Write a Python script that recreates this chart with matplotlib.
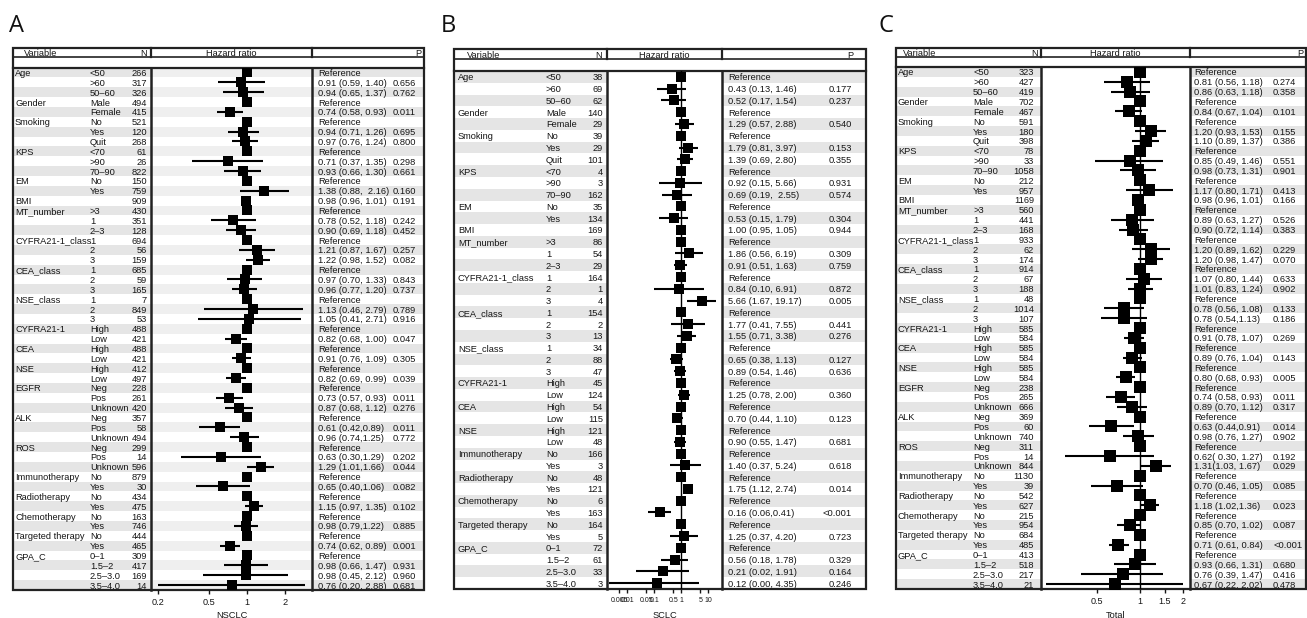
import re
import matplotlib.pyplot as plt
from matplotlib.patches import Rectangle
from matplotlib.ticker import FixedLocator, FixedFormatter, NullLocator

plt.rcParams['font.family'] = ['Liberation Sans', 'DejaVu Sans']

W, H = 1307, 618
TXT = "#161616"
GREY = "#e5e5e5"

# ---- row labels: NSCLC and Total share the same rows ----
var_full = ["Age", "", "", "Gender", "", "Smoking", "", "", "KPS", "", "", "EM", "", "BMI",
            "MT_number", "", "", "CYFRA21-1_class", "", "", "CEA_class", "", "", "NSE_class", "", "",
            "CYFRA21-1", "", "CEA", "", "NSE", "", "EGFR", "", "", "ALK", "", "", "ROS", "", "",
            "Immunotherapy", "", "Radiotherapy", "", "Chemotherapy", "", "Targeted therapy", "",
            "GPA_C", "", "", ""]
lvl_full = ["<50", ">60", "50–60", "Male", "Female", "No", "Yes", "Quit", "<70", ">90", "70–90",
            "No", "Yes", "", ">3", "1", "2–3", "1", "2", "3", "1", "2", "3", "1", "2", "3",
            "High", "Low", "High", "Low", "High", "Low", "Neg", "Pos", "Unknown", "Neg", "Pos", "Unknown",
            "Neg", "Pos", "Unknown", "No", "Yes", "No", "Yes", "No", "Yes", "No", "Yes",
            "0–1", "1.5–2", "2.5–3.0", "3.5–4.0"]

var_sclc = ["Age", "", "", "Gender", "", "Smoking", "", "", "KPS", "", "", "EM", "", "BMI",
            "MT_number", "", "", "CYFRA21-1_class", "", "", "CEA_class", "", "", "NSE_class", "", "",
            "CYFRA21-1", "", "CEA", "", "NSE", "", "Immunotherapy", "", "Radiotherapy", "",
            "Chemotherapy", "", "Targeted therapy", "", "GPA_C", "", "", ""]
lvl_sclc = ["<50", ">60", "50–60", "Male", "Female", "No", "Yes", "Quit", "<70", ">90", "70–90",
            "No", "Yes", "", ">3", "1", "2–3", "1", "2", "3", "1", "2", "3", "1", "2", "3",
            "High", "Low", "High", "Low", "High", "Low", "No", "Yes", "No", "Yes", "No", "Yes",
            "No", "Yes", "0–1", "1.5–2", "2.5–3.0", "3.5–4.0"]

# ---- NSCLC ----
n_nsclc = [266, 317, 326, 494, 415, 521, 120, 268, 61, 26, 822, 150, 759, 909, 430, 351, 128,
           694, 56, 159, 685, 59, 165, 7, 849, 53, 488, 421, 488, 421, 412, 497, 228, 261, 420,
           357, 58, 494, 299, 14, 596, 879, 30, 434, 475, 163, 746, 444, 465, 309, 417, 169, 14]
est_nsclc = ["Reference", "0.91 (0.59, 1.40)", "0.94 (0.65, 1.37)", "Reference", "0.74 (0.58, 0.93)",
             "Reference", "0.94 (0.71, 1.26)", "0.97 (0.76, 1.24)", "Reference", "0.71 (0.37, 1.35)",
             "0.93 (0.66, 1.30)", "Reference", "1.38 (0.88,  2.16)", "0.98 (0.96, 1.01)", "Reference",
             "0.78 (0.52, 1.18)", "0.90 (0.69, 1.18)", "Reference", "1.21 (0.87, 1.67)",
             "1.22 (0.98, 1.52)", "Reference", "0.97 (0.70, 1.33)", "0.96 (0.77, 1.20)", "Reference",
             "1.13 (0.46, 2.79)", "1.05 (0.41, 2.71)", "Reference", "0.82 (0.68, 1.00)", "Reference",
             "0.91 (0.76, 1.09)", "Reference", "0.82 (0.69, 0.99)", "Reference", "0.73 (0.57, 0.93)",
             "0.87 (0.68, 1.12)", "Reference", "0.61 (0.42,0.89)", "0.96 (0.74,1.25)", "Reference",
             "0.63 (0.30,1.29)", "1.29 (1.01,1.66)", "Reference", "0.65 (0.40,1.06)", "Reference",
             "1.15 (0.97, 1.35)", "Reference", "0.98 (0.79,1.22)", "Reference", "0.74 (0.62, 0.89)",
             "Reference", "0.98 (0.66, 1.47)", "0.98 (0.45, 2.12)", "0.76 (0.20, 2.88)"]
p_nsclc = ["", "0.656", "0.762", "", "0.011", "", "0.695", "0.800", "", "0.298", "0.661", "", "0.160",
           "0.191", "", "0.242", "0.452", "", "0.257", "0.082", "", "0.843", "0.737", "", "0.789",
           "0.916", "", "0.047", "", "0.305", "", "0.039", "", "0.011", "0.276", "", "0.011", "0.772",
           "", "0.202", "0.044", "", "0.082", "", "0.102", "", "0.885", "", "0.001", "", "0.931",
           "0.960", "0.681"]
ticks_nsclc = [0.2, 0.5, 1, 2]

# ---- SCLC ----
n_sclc = [38, 69, 62, 140, 29, 39, 29, 101, 4, 3, 162, 35, 134, 169, 86, 54, 29, 164, 1, 4,
          154, 2, 13, 34, 88, 47, 45, 124, 54, 115, 121, 48, 166, 3, 48, 121, 6, 163, 164, 5,
          72, 61, 33, 3]
est_sclc = ["Reference", "0.43 (0.13, 1.46)", "0.52 (0.17, 1.54)", "Reference", "1.29 (0.57, 2.88)",
            "Reference", "1.79 (0.81, 3.97)", "1.39 (0.69, 2.80)", "Reference", "0.92 (0.15, 5.66)",
            "0.69 (0.19,  2.55)", "Reference", "0.53 (0.15, 1.79)", "1.00 (0.95, 1.05)", "Reference",
            "1.86 (0.56, 6.19)", "0.91 (0.51, 1.63)", "Reference", "0.84 (0.10, 6.91)",
            "5.66 (1.67, 19.17)", "Reference", "1.77 (0.41, 7.55)", "1.55 (0.71, 3.38)", "Reference",
            "0.65 (0.38, 1.13)", "0.89 (0.54, 1.46)", "Reference", "1.25 (0.78, 2.00)", "Reference",
            "0.70 (0.44, 1.10)", "Reference", "0.90 (0.55, 1.47)", "Reference", "1.40 (0.37, 5.24)",
            "Reference", "1.75 (1.12, 2.74)", "Reference", "0.16 (0.06,0.41)", "Reference",
            "1.25 (0.37, 4.20)", "Reference", "0.56 (0.18, 1.78)", "0.21 (0.02, 1.91)",
            "0.12 (0.00, 4.35)"]
p_sclc = ["", "0.177", "0.237", "", "0.540", "", "0.153", "0.355", "", "0.931", "0.574", "", "0.304",
          "0.944", "", "0.309", "0.759", "", "0.872", "0.005", "", "0.441", "0.276", "", "0.127",
          "0.636", "", "0.360", "", "0.123", "", "0.681", "", "0.618", "", "0.014", "", "<0.001", "",
          "0.723", "", "0.329", "0.164", "0.246"]
ticks_sclc = [0.005, 0.01, 0.05, 0.1, 0.5, 1, 5, 10]

# ---- Total ----
n_total = [323, 427, 419, 702, 467, 591, 180, 398, 78, 33, 1058, 212, 957, 1169, 560, 441, 168,
           933, 62, 174, 914, 67, 188, 48, 1014, 107, 585, 584, 585, 584, 585, 584, 238, 265, 666,
           369, 60, 740, 311, 14, 844, 1130, 39, 542, 627, 215, 954, 684, 485, 413, 518, 217, 21]
est_total = ["Reference", "0.81 (0.56, 1.18)", "0.86 (0.63, 1.18)", "Reference", "0.84 (0.67, 1.04)",
             "Reference", "1.20 (0.93, 1.53)", "1.10 (0.89, 1.37)", "Reference", "0.85 (0.49, 1.46)",
             "0.98 (0.73, 1.31)", "Reference", "1.17 (0.80, 1.71)", "0.98 (0.96, 1.01)", "Reference",
             "0.89 (0.63, 1.27)", "0.90 (0.72, 1.14)", "Reference", "1.20 (0.89, 1.62)",
             "1.20 (0.98, 1.47)", "Reference", "1.07 (0.80, 1.44)", "1.01 (0.83, 1.24)", "Reference",
             "0.78 (0.56, 1.08)", "0.78 (0.54,1.13)", "Reference", "0.91 (0.78, 1.07)", "Reference",
             "0.89 (0.76, 1.04)", "Reference", "0.80 (0.68, 0.93)", "Reference", "0.74 (0.58, 0.93)",
             "0.89 (0.70, 1.12)", "Reference", "0.63 (0.44,0.91)", "0.98 (0.76, 1.27)", "Reference",
             "0.62( 0.30, 1.27)", "1.31(1.03, 1.67)", "Reference", "0.70 (0.46, 1.05)", "Reference",
             "1.18 (1.02,1.36)", "Reference", "0.85 (0.70, 1.02)", "Reference", "0.71 (0.61, 0.84)",
             "Reference", "0.93 (0.66, 1.31)", "0.76 (0.39, 1.47)", "0.67 (0.22, 2.02)"]
p_total = ["", "0.274", "0.358", "", "0.101", "", "0.155", "0.386", "", "0.551", "0.901", "", "0.413",
           "0.166", "", "0.526", "0.383", "", "0.229", "0.070", "", "0.633", "0.902", "", "0.133",
           "0.186", "", "0.269", "", "0.143", "", "0.005", "", "0.011", "0.317", "", "0.014", "0.902",
           "", "0.192", "0.029", "", "0.085", "", "0.023", "", "0.087", "", "<0.001", "", "0.680",
           "0.416", "0.478"]
ticks_total = [0.5, 1, 1.5, 2]

# layout of each panel in figure pixels (y measured from the top)
LAYOUT = {
    "A": dict(left=13, right=424, top=48, hdr=57, gap=67.5, bottom=590, sep1=151, sep2=312,
              x_var=15, x_lvl=90, x_n=147, x_est=318, x_p=393, p_ha="left",
              h_var=24, h_n=147, h_p=421, xlim=(0.18, 3.2), tick_fs=6.6, ms=7.6,
              hr_grey="#efefef", refline=False, lx=9),
    "B": dict(left=454, right=866, top=49, hdr=59, gap=71, bottom=589, sep1=607, sep2=722,
              x_var=458, x_lvl=546, x_n=603, x_est=728, x_p=852, p_ha="right",
              h_var=467, h_n=602, h_p=853, xlim=(0.002, 28), tick_fs=5.0, ms=7.4,
              hr_grey=None, refline=True, lx=441),
    "C": dict(left=896, right=1306, top=48, hdr=57, gap=67, bottom=589, sep1=1041, sep2=1190,
              x_var=898, x_lvl=973, x_n=1034, x_est=1194, x_p=1273, p_ha="left",
              h_var=903, h_n=1038, h_p=1303, xlim=(0.209, 2.2), tick_fs=6.5, ms=8.0,
              hr_grey=None, refline=True, lx=878),
}

FS = 6.7


def draw_panel(fig, bg, letter, var, lvl, n, est, p, ticks, xlabel):
    L = LAYOUT[letter]
    nrow = len(var)
    h = (L["bottom"] - L["gap"]) / nrow

    # zebra stripes
    for i in range(0, nrow, 2):
        y = L["gap"] + i * h
        for xa, xb, col in [(L["left"], L["sep1"], GREY), (L["sep2"], L["right"], GREY),
                            (L["sep1"], L["sep2"], L["hr_grey"])]:
            if col:
                bg.add_patch(Rectangle((xa, y), xb - xa, h, color=col, lw=0, zorder=0))

    # table text
    for i in range(nrow):
        yc = L["gap"] + (i + 0.5) * h
        kw = dict(fontsize=FS, color=TXT, va="center_baseline")
        bg.text(L["x_var"], yc, var[i], ha="left", **kw)
        bg.text(L["x_lvl"], yc, lvl[i], ha="left", **kw)
        bg.text(L["x_n"], yc, str(n[i]), ha="right", **kw)
        bg.text(L["x_est"], yc, est[i], ha="left", **kw)
        bg.text(L["x_p"], yc, p[i], ha=L["p_ha"], **kw)

    # header
    hy = (L["top"] + L["hdr"]) / 2 + 0.5
    kw = dict(fontsize=FS, color=TXT, va="center_baseline")
    bg.text(L["h_var"], hy, "Variable", ha="left", **kw)
    bg.text(L["h_n"], hy, "N", ha="right", **kw)
    bg.text((L["sep1"] + L["sep2"]) / 2, hy, "Hazard ratio", ha="center", **kw)
    bg.text(L["h_p"], hy, "P", ha="right", **kw)

    # borders
    lc = "#222222"
    bg.add_patch(Rectangle((L["left"], L["top"]), L["right"] - L["left"], L["bottom"] - L["top"],
                           fill=False, ec=lc, lw=1.6, zorder=5))
    bg.plot([L["left"], L["right"]], [L["hdr"], L["hdr"]], color=lc, lw=1.2, zorder=5)
    bg.plot([L["left"], L["right"]], [L["gap"], L["gap"]], color=lc, lw=1.6, zorder=5)
    for xs in (L["sep1"], L["sep2"]):
        bg.plot([xs, xs], [L["top"], L["hdr"]], color=lc, lw=1.6, zorder=5)
        bg.plot([xs, xs], [L["gap"], L["bottom"]], color=lc, lw=1.8, zorder=5)

    # panel letter
    bg.text(L["lx"], 32, letter, fontsize=17, family=["Open Sans", "DejaVu Sans"],
            color="#111111", ha="left", va="baseline")

    # forest plot
    x0, x1 = L["sep1"] + 1.5, L["sep2"] - 1.5
    ax = fig.add_axes([x0 / W, 1 - L["bottom"] / H, (x1 - x0) / W, (L["bottom"] - L["gap"]) / H])
    ax.set_facecolor("none")
    ax.set_xscale("log")
    ax.set_xlim(*L["xlim"])
    ax.set_ylim(nrow - 0.5, -0.5)
    if L["refline"]:
        ax.axvline(1, color="black", lw=1.0, zorder=1)
    for i, s in enumerate(est):
        nums = [float(v) for v in re.findall(r"\d+\.\d+", s)]
        if nums:
            hr, lo, hi = nums
            lo = max(lo, L["xlim"][0])
            ax.hlines(i, lo, hi, color="black", lw=1.5, zorder=2)
        else:
            hr = 1.0
        ax.plot(hr, i, "s", color="black", ms=L["ms"], mew=0, zorder=3)

    for sp in ax.spines.values():
        sp.set_visible(False)
    ax.set_yticks([])
    ax.xaxis.set_major_locator(FixedLocator(ticks))
    ax.xaxis.set_major_formatter(FixedFormatter([f"{t:g}" for t in ticks]))
    ax.xaxis.set_minor_locator(NullLocator())
    ax.tick_params(axis="x", length=3, width=1, pad=2.5, labelsize=L["tick_fs"],
                   colors=TXT)
    bg.text((x0 + x1) / 2, 614, xlabel, fontsize=FS, color=TXT, ha="center", va="center_baseline")


fig = plt.figure(figsize=(W / 100, H / 100), dpi=100)
bg = fig.add_axes([0, 0, 1, 1])
bg.set_xlim(0, W)
bg.set_ylim(H, 0)
bg.axis("off")

draw_panel(fig, bg, "A", var_full, lvl_full, n_nsclc, est_nsclc, p_nsclc, ticks_nsclc, "NSCLC")
draw_panel(fig, bg, "B", var_sclc, lvl_sclc, n_sclc, est_sclc, p_sclc, ticks_sclc, "SCLC")
draw_panel(fig, bg, "C", var_full, lvl_full, n_total, est_total, p_total, ticks_total, "Total")

fig.savefig("out.png", dpi=100)
